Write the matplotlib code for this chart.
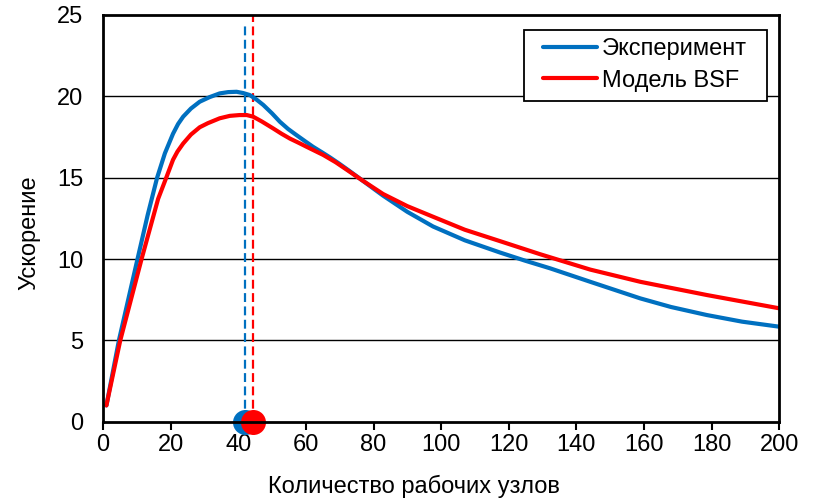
import matplotlib
matplotlib.use("Agg")
import matplotlib.pyplot as plt
from matplotlib.patches import Rectangle

plt.rcParams['font.family'] = ['Liberation Sans', 'DejaVu Sans']

# Experiment (blue)
exp_x = [1, 4.7, 10.2, 13.2, 16.0, 18.3, 20.7, 22.2, 23.7, 26, 28.6, 31.5, 34.5, 37,
         39.5, 41.5, 43.4, 45.4, 47.4, 50, 52.3, 54.7, 57.2, 59.7, 62.1, 64.6, 67.1,
         69.8, 72.5, 76.5, 82.8, 90, 97.6, 107, 117.4, 124.8, 132.2, 144.1, 158.9,
         168, 178.5, 189, 200]
exp_y = [1.0, 5.0, 10.0, 12.7, 15.0, 16.5, 17.7, 18.3, 18.75, 19.25, 19.67, 19.95, 20.18, 20.26,
         20.28, 20.2, 20.08, 19.8, 19.47, 18.95, 18.44, 18.0, 17.62, 17.25, 16.9, 16.58, 16.25,
         15.87, 15.47, 14.86, 13.9, 12.9, 12.0, 11.15, 10.4, 9.9, 9.43, 8.6, 7.58,
         7.05, 6.56, 6.15, 5.84]

# BSF model (red)
bsf_x = [1, 5.1, 11.4, 16.3, 18.7, 20.7, 22.0, 23.7, 26, 28.6, 31, 34.5, 37.5, 40.4,
         42.5, 44.4, 47, 50.3, 52.8, 55.3, 57.8, 60.2, 65.1, 68.8, 72.5, 76.5, 82.8,
         90, 97.6, 107, 117.4, 129.2, 144.1, 158.9, 178.5, 200]
bsf_y = [1.0, 5.0, 10.0, 13.7, 15.0, 16.1, 16.6, 17.1, 17.65, 18.1, 18.35, 18.65, 18.8, 18.85,
         18.85, 18.75, 18.45, 18.03, 17.7, 17.4, 17.15, 16.9, 16.4, 15.95, 15.43, 14.86, 14.0,
         13.25, 12.6, 11.8, 11.1, 10.3, 9.35, 8.6, 7.79, 6.97]

# Optimal node counts
exp_peak_x = 42
bsf_peak_x = 44.5

series_labels = ['Эксперимент', 'Модель BSF']
x_ticks = [0, 20, 40, 60, 80, 100, 120, 140, 160, 180, 200]
y_ticks = [0, 5, 10, 15, 20, 25]

blue = '#0070C0'
red = '#FF0000'
FS = 17

fig = plt.figure(figsize=(8.17, 5), dpi=100)
ax = fig.add_axes([0.1261, 0.1566, 0.8277, 0.8134])

for y in y_ticks[1:-1]:
    ax.axhline(y, color='black', lw=1.0, zorder=1)

ax.plot(exp_x, exp_y, color=blue, lw=3, label=series_labels[0], zorder=3,
        solid_joinstyle='round', solid_capstyle='round')
ax.plot(bsf_x, bsf_y, color=red, lw=3, label=series_labels[1], zorder=3,
        solid_joinstyle='round', solid_capstyle='round')

ax.plot([exp_peak_x, exp_peak_x], [0, 24.6], color=blue, lw=1.6,
        linestyle=(0, (4, 2)), zorder=2)
ax.plot([bsf_peak_x, bsf_peak_x], [0, 25], color=red, lw=1.6,
        linestyle=(0, (4, 2)), zorder=2)

ax.plot([exp_peak_x], [0], 'o', color=blue, ms=18, clip_on=False, zorder=5, mew=0)
ax.plot([bsf_peak_x], [0], 'o', color=red, ms=18, clip_on=False, zorder=6, mew=0)

ax.set_xlim(0, 200)
ax.set_ylim(0, 25)
ax.set_xticks(x_ticks)
ax.set_yticks(y_ticks)
ax.tick_params(axis='x', direction='out', length=6, width=1.5, labelsize=FS, pad=3)
ax.tick_params(axis='y', length=0, labelsize=FS, pad=14)

for s in ax.spines.values():
    s.set_linewidth(2)
    s.set_color('black')
    s.set_zorder(7)

ax.set_xlabel('Количество рабочих узлов', fontsize=FS)
ax.xaxis.set_label_coords(0.46, -0.13)
ax.set_ylabel('Ускорение', fontsize=FS)
ax.yaxis.set_label_coords(-0.092, 0.464)

# legend box
ax.add_patch(Rectangle((0.6225, 0.7885), 0.3593, 0.1746, transform=ax.transAxes,
                       facecolor='white', edgecolor='black', lw=1.3, zorder=8))
leg = ax.legend(loc='center left', bbox_to_anchor=(0.6506, 0.877), fontsize=FS,
                frameon=False, handlelength=2.3, handletextpad=0.2,
                labelspacing=0.4, borderpad=0, borderaxespad=0)
leg.set_zorder(9)

fig.savefig('out.png', dpi=100)
